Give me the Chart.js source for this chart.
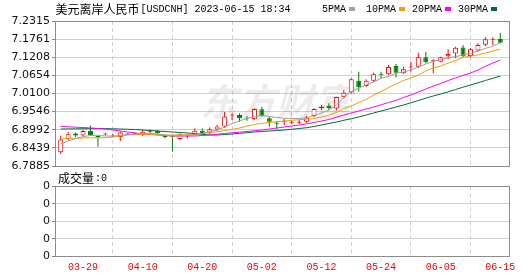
<!DOCTYPE html>
<html><head><meta charset="utf-8">
<script src="https://cdn.jsdelivr.net/npm/chart.js@4"></script>
<style>
html,body{margin:0;padding:0;background:#fff;width:530px;height:276px;overflow:hidden;}
#c1{position:absolute;left:0;top:0;}
#c2{position:absolute;left:0;top:168px;}
</style></head><body>
<canvas id="c1" width="530" height="184"></canvas>
<canvas id="c2" width="530" height="108"></canvas>
<script>
const dates = ['03-24','03-27','03-28','03-29','03-30','03-31','04-03','04-04','04-05','04-06','04-07','04-10','04-11','04-12','04-13','04-14','04-17','04-18','04-19','04-20','04-21','04-24','04-25','04-26','04-27','04-28','05-01','05-02','05-03','05-04','05-05','05-08','05-09','05-10','05-11','05-12','05-15','05-16','05-17','05-18','05-19','05-22','05-23','05-24','05-25','05-26','05-29','05-30','05-31','06-01','06-02','06-05','06-06','06-07','06-08','06-09','06-12','06-13','06-14','06-15'];
const xTickLabels = ['03-29','04-10','04-20','05-02','05-12','05-24','06-05','06-15'];

const open = [6.8303,6.8701,6.8878,6.8817,6.8963,6.8801,6.8878,6.8786,6.8771,6.8878,
6.8893,6.8847,6.8914,6.8963,6.8792,6.8801,6.8710,6.8786,6.8832,6.8963,
6.8884,6.9000,6.9092,6.9428,6.9443,6.9351,6.9312,6.9617,6.9342,6.9199,
6.9220,6.9208,6.9208,6.9238,6.9412,6.9648,6.9733,6.9642,7.0002,7.0130,
7.0491,7.0329,7.0491,7.0696,7.0687,7.0940,7.0717,7.0894,7.0919,7.1206,
7.1087,7.1072,7.1236,7.1322,7.1505,7.1246,7.1414,7.1591,7.1744,7.1765];
const close = [6.8694,6.8853,6.8817,6.8954,6.8823,6.8762,6.8847,6.8817,6.8908,6.8847,
6.8863,6.8933,6.8939,6.8884,6.8771,6.8780,6.8853,6.8817,6.8963,6.8863,
6.9006,6.9092,6.9397,6.9449,6.9342,6.9327,6.9626,6.9412,6.9238,6.9177,
6.9251,6.9229,6.9229,6.9367,6.9626,6.9703,6.9657,6.9993,7.0124,7.0534,
7.0289,7.0491,7.0687,7.0674,7.0910,7.0735,7.0839,7.0919,7.1206,7.1053,
7.1114,7.1206,7.1307,7.1499,7.1236,7.1453,7.1582,7.1759,7.1765,7.1652];
const high = [6.8817,6.8924,6.8908,6.8985,6.9122,6.8817,6.8893,6.8863,6.8939,6.8893,
6.8908,6.8985,6.9000,6.8985,6.8832,6.8832,6.8878,6.8863,6.9031,6.9031,
6.9061,6.9138,6.9535,6.9474,6.9495,6.9412,6.9648,6.9697,6.9391,6.9260,
6.9321,6.9269,6.9312,6.9412,6.9648,6.9749,6.9800,7.0002,7.0207,7.0564,
7.0766,7.0534,7.0735,7.0766,7.0971,7.1001,7.0919,7.1072,7.1346,7.1377,
7.1145,7.1224,7.1450,7.1530,7.1582,7.1481,7.1634,7.1817,7.1817,7.1958];
const low = [6.8251,6.8679,6.8771,6.8801,6.8801,6.8475,6.8817,6.8771,6.8649,6.8832,
6.8832,6.8801,6.8878,6.8847,6.8725,6.8328,6.8679,6.8725,6.8817,6.8832,
6.8863,6.8954,6.9046,6.9290,6.9238,6.9269,6.9290,6.9391,6.9086,6.9006,
6.9138,6.9159,6.9168,6.9208,6.9373,6.9596,6.9596,6.9581,6.9984,7.0106,
7.0155,7.0289,7.0460,7.0564,7.0665,7.0595,7.0696,7.0766,7.0879,7.1023,
7.0717,7.1053,7.1145,7.1175,7.1206,7.1206,7.1377,7.1551,7.1582,7.1634];

const ma5 = [6.8557,6.8649,6.8725,6.8780,6.8817,6.8823,6.8801,6.8801,6.8817,6.8847,
6.8863,6.8878,6.8884,6.8863,6.8832,6.8801,6.8801,6.8817,6.8832,6.8878,
6.8939,6.8985,6.9076,6.9183,6.9260,6.9336,6.9382,6.9428,6.9397,6.9367,
6.9342,6.9336,6.9336,6.9351,6.9428,6.9504,6.9596,6.9749,6.9962,7.0161,
7.0268,7.0360,7.0451,7.0564,7.0619,7.0717,7.0757,7.0818,7.0910,7.1001,
7.1078,7.1139,7.1185,7.1230,7.1276,7.1322,7.1398,7.1475,7.1551,7.1652];
const ma10 = [6.8710,6.8725,6.8734,6.8740,6.8746,6.8749,6.8749,6.8771,6.8801,6.8832,
6.8847,6.8853,6.8853,6.8841,6.8832,6.8832,6.8832,6.8838,6.8847,6.8878,
6.8908,6.8933,6.8969,6.9000,6.9046,6.9107,6.9153,6.9189,6.9214,6.9238,
6.9260,6.9281,6.9299,6.9312,6.9336,6.9382,6.9443,6.9519,6.9642,6.9718,
6.9825,6.9917,7.0054,7.0161,7.0283,7.0390,7.0497,7.0574,7.0665,7.0787,
7.0879,7.0940,7.1032,7.1108,7.1200,7.1246,7.1276,7.1337,7.1398,7.1450];
const ma20 = [6.9092,6.9083,6.9070,6.9061,6.9046,6.9031,6.9015,6.8985,6.8954,6.8924,
6.8893,6.8863,6.8847,6.8832,6.8817,6.8801,6.8801,6.8801,6.8801,6.8817,
6.8832,6.8853,6.8878,6.8899,6.8918,6.8939,6.8963,6.8985,6.9015,6.9046,
6.9076,6.9107,6.9138,6.9174,6.9214,6.9260,6.9306,6.9373,6.9443,6.9504,
6.9565,6.9626,6.9687,6.9755,6.9825,6.9886,6.9978,7.0054,7.0146,7.0237,
7.0329,7.0405,7.0497,7.0574,7.0650,7.0726,7.0818,7.0925,7.1032,7.1123];
const ma30 = [6.9015,6.9018,6.9021,6.9024,6.9027,6.9031,6.9027,6.9021,6.9015,6.9006,
6.9000,6.8985,6.8969,6.8954,6.8939,6.8924,6.8908,6.8893,6.8878,6.8853,
6.8832,6.8832,6.8847,6.8863,6.8884,6.8902,6.8924,6.8939,6.8954,6.8969,
6.8985,6.9006,6.9031,6.9055,6.9092,6.9138,6.9183,6.9229,6.9281,6.9330,
6.9382,6.9443,6.9504,6.9565,6.9626,6.9687,6.9749,6.9816,6.9886,6.9956,
7.0024,7.0085,7.0152,7.0222,7.0292,7.0360,7.0427,7.0497,7.0564,7.0635];
const volume = [0,0,0,0,0,0,0,0,0,0,0,0,0,0,0,0,0,0,0,0,0,0,0,0,0,0,0,0,0,0,
0,0,0,0,0,0,0,0,0,0,0,0,0,0,0,0,0,0,0,0,0,0,0,0,0,0,0,0,0,0];

const priceTicks = [6.7885,6.8439,6.8992,6.9546,7.0100,7.0654,7.1208,7.1761,7.2315];
const priceTickLabels = ['6.7885','6.8439','6.8992','6.9546','7.0100','7.0654','7.1208','7.1761','7.2315'];
const volTicks = [0,1,2,3,4];
const volTickLabels = ['0','0','0','0','0'];

const titleCJK = '美元离岸人民币';
const titleRest = '[USDCNH] 2023-06-15 18:34';
const volTitleCJK = '成交量';
const volTitleRest = ':0';
const maNames = ['5PMA','10PMA','20PMA','30PMA'];

const UP = '#ff0000', DOWN = '#008000';
const MA_COLORS = ['#a0a0a0','#f0a000','#ff00ff','#006b3c'];
const isUp = close.map((c,i)=> c >= open[i]);

const X_MIN = -0.765, X_MAX = 60.168;
const labelFont = {family:'DejaVu Sans', size:11};
const monoFont = {family:'Liberation Mono', size:10};

function xScale(showLabels){
  return {
    type:'linear', min:X_MIN, max:X_MAX, offset:false,
    afterBuildTicks: s => { s.ticks = xTickLabels.map(l => ({value: dates.indexOf(l)})); },
    ticks:{display:showLabels, autoSkip:false, maxRotation:0, color:'#ff0000', font:monoFont, padding:5,
      callback: v => dates[v]},
    grid:{color:'#cfcfcf', lineWidth:1, drawTicks:false},
    border:{display:false, dash:[4,3]},
    afterFit: s => { s.height = showLabels ? 19.7 : 0; }
  };
}

const framePlugin = {
  id:'frame',
  beforeDatasetsDraw(chart){
    const {ctx, chartArea:a} = chart;
    ctx.save();
    ctx.strokeStyle = '#8c8c8c'; ctx.lineWidth = 1;
    const l = Math.round(a.left)+0.5, t = Math.round(a.top)+0.5;
    ctx.strokeRect(l, t, Math.round(a.right - a.left), Math.round(a.bottom - a.top));
    ctx.restore();
  }
};

const watermarkPlugin = {
  id:'watermark',
  beforeDatasetsDraw(chart){
    const {ctx} = chart;
    ctx.save();
    ctx.fillStyle = 'rgba(0,0,0,0.075)';
    ctx.font = 'italic bold 38px "Noto Sans CJK SC"';
    ctx.textBaseline = 'alphabetic';
    ctx.fillText('东方财富', 200, 116);
    ctx.restore();
  }
};

const headerPlugin = {
  id:'header',
  afterDraw(chart){
    const {ctx} = chart;
    ctx.save();
    ctx.fillStyle = '#000';
    ctx.textBaseline = 'middle';
    ctx.font = '12px "Noto Sans CJK SC"';
    ctx.fillText(titleCJK, 55.5, 9.5);
    const w = ctx.measureText(titleCJK).width;
    ctx.font = '10px "Liberation Mono"';
    ctx.fillText(titleRest, 55.5 + w + 1, 9.5);
    const starts = [322, 366, 412, 458];
    maNames.forEach((n,k) => {
      ctx.fillStyle = '#000';
      ctx.fillText(n, starts[k], 9.5);
      const tw = ctx.measureText(n).width;
      ctx.fillStyle = MA_COLORS[k];
      ctx.fillRect(Math.round(starts[k] + tw + 3), 7, 6, 4);
    });
    ctx.restore();
  }
};

const volHeaderPlugin = {
  id:'volheader',
  afterDraw(chart){
    const {ctx} = chart;
    ctx.save();
    ctx.fillStyle = '#000';
    ctx.textBaseline = 'middle';
    ctx.font = '12px "Noto Sans CJK SC"';
    ctx.fillText(volTitleCJK, 58, 10.5);
    const w = ctx.measureText(volTitleCJK).width;
    ctx.font = '10px "Liberation Mono"';
    ctx.fillText(volTitleRest, 58 + w + 1, 10.5);
    ctx.restore();
  }
};

function maDataset(k, arr){
  return {type:'line', label:maNames[k], data:arr.map((v,i)=>({x:i,y:v})),
    borderColor:MA_COLORS[k], borderWidth:1, pointRadius:0, fill:false, tension:0};
}

new Chart(document.getElementById('c1'), {
  type:'bar',
  data:{datasets:[
    maDataset(0, ma5), maDataset(1, ma10), maDataset(2, ma20), maDataset(3, ma30),
    {type:'bar', label:'body', data:open.map((o,i)=>({x:i, y:[o, close[i]]})),
      backgroundColor:isUp.map(u=> u ? '#ffffff' : DOWN),
      borderColor:isUp.map(u=> u ? UP : DOWN),
      borderWidth:1, borderSkipped:false, grouped:false, maxBarThickness:5, minBarLength:1},
    {type:'bar', label:'wick', data:low.map((l,i)=>({x:i, y:[l, high[i]]})),
      backgroundColor:isUp.map(u=> u ? UP : DOWN),
      borderWidth:0, grouped:false, maxBarThickness:1, minBarLength:1}
  ]},
  options:{
    responsive:false, animation:false, devicePixelRatio:1, events:[],
    layout:{padding:{left:0, right:21, top:21, bottom:18}},
    plugins:{legend:{display:false}, tooltip:{enabled:false}, title:{display:false}},
    scales:{
      x: xScale(false),
      y:{type:'linear', position:'left', min:6.7885, max:7.2315,
        afterBuildTicks: s => { s.ticks = priceTicks.map(v=>({value:v})); },
        ticks:{autoSkip:false, color:'#111', font:labelFont, padding:2,
          callback:(v,i)=> priceTickLabels[i]},
        grid:{color:'#d0d0d0', lineWidth:1, drawTicks:true, tickLength:3, tickColor:'#888'},
        border:{display:false},
        afterFit: s => { s.width = 55; }
      }
    }
  },
  plugins:[watermarkPlugin, framePlugin, headerPlugin]
});

new Chart(document.getElementById('c2'), {
  type:'bar',
  data:{datasets:[
    {type:'bar', label:'成交量', data:volume.map((v,i)=>({x:i, y:v})),
      backgroundColor:isUp.map(u=> u ? UP : DOWN), borderWidth:0, grouped:false, maxBarThickness:5}
  ]},
  options:{
    responsive:false, animation:false, devicePixelRatio:1, events:[],
    layout:{padding:{left:0, right:21, top:18.3, bottom:0}},
    plugins:{legend:{display:false}, tooltip:{enabled:false}},
    scales:{
      x: xScale(true),
      y:{type:'linear', position:'left', min:0, max:4,
        afterBuildTicks: s => { s.ticks = volTicks.map(v=>({value:v})); },
        ticks:{autoSkip:false, color:'#111', font:labelFont, padding:2,
          callback:(v,i)=> volTickLabels[i]},
        grid:{color:'#d0d0d0', lineWidth:1, drawTicks:true, tickLength:3, tickColor:'#888'},
        border:{display:false},
        afterFit: s => { s.width = 55; }
      }
    }
  },
  plugins:[framePlugin, volHeaderPlugin]
});
</script>
</body></html>
